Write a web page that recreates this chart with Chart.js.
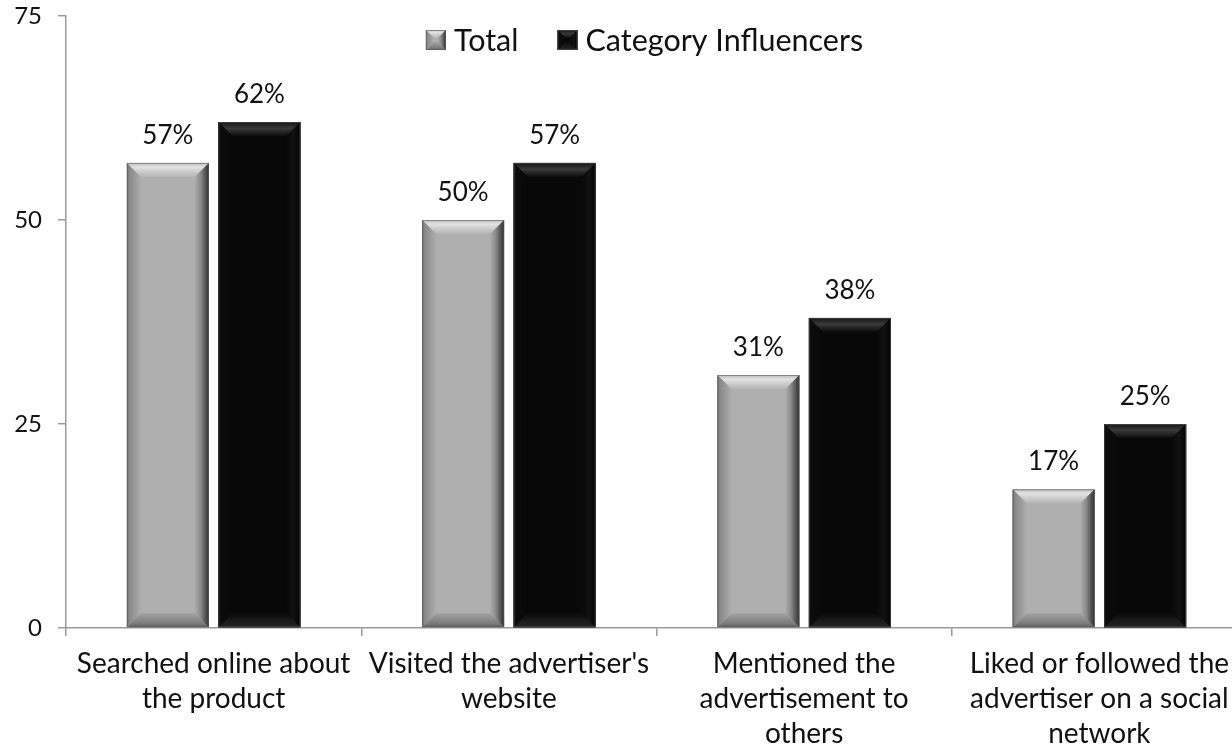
<!DOCTYPE html>
<html>
<head>
<meta charset="utf-8">
<script src="https://cdn.jsdelivr.net/npm/chart.js@4.4.1/dist/chart.umd.min.js"></script>
<style>
  html, body { margin: 0; padding: 0; background: #fff; overflow: hidden; }
  #wrap { width: 1232px; height: 750px; overflow: hidden; position: relative; }
  canvas { display: block; }
</style>
</head>
<body>
<div id="wrap"><canvas id="c" width="1250" height="750"></canvas></div>
<script>
// Chart data
const categories = [
  ["Searched online about", "the product"],
  ["Visited the advertiser's", "website"],
  ["Mentioned the", "advertisement to", "others"],
  ["Liked or followed the", "advertiser on a social", "network"]
];
const seriesNames = ["Total", "Category Influencers"];
const totalValues = [57, 50, 31, 17];
const influencerValues = [62, 57, 38, 25];
const yMin = 0, yMax = 75, yStep = 25;

const FONT = "Lato";
const AXIS = "#9a9a9a";

// Bevelled fills for the two series
const palettes = [
  {
    body: "#afafaf",
    top: [[0, "#bdbdbd"], [0.3, "#e2e2e2"], [0.6, "#cecece"], [1, "#b5b5b5"]],
    bottom: [[0, "#5e5e5e"], [0.25, "#7a7a7a"], [1, "#a2a2a2"]],
    left: [[0, "#707070"], [0.2, "#8a8a8a"], [1, "#adadad"]],
    right: [[0, "#2e2e2e"], [0.25, "#555555"], [0.6, "#8a8a8a"], [1, "#adadad"]],
    edge: "rgba(90,90,90,0.6)"
  },
  {
    body: "#080808",
    top: [[0, "#151515"], [0.45, "#3a3a3a"], [1, "#0c0c0c"]],
    bottom: [[0, "#232323"], [0.5, "#191919"], [1, "#0a0a0a"]],
    left: [[0, "#0d0d0d"], [1, "#080808"]],
    right: [[0, "#030303"], [0.5, "#121212"], [1, "#080808"]],
    edge: "rgba(80,80,80,0.7)"
  }
];

function poly(ctx, pts, fill) {
  ctx.beginPath();
  ctx.moveTo(pts[0][0], pts[0][1]);
  for (let i = 1; i < pts.length; i++) ctx.lineTo(pts[i][0], pts[i][1]);
  ctx.closePath();
  ctx.fillStyle = fill;
  ctx.fill();
}

function grad(ctx, x0, y0, x1, y1, stops) {
  const g = ctx.createLinearGradient(x0, y0, x1, y1);
  stops.forEach(s => g.addColorStop(s[0], s[1]));
  return g;
}

function bevelRect(ctx, l, t, r, b, size, pal) {
  const w = r - l, h = b - t;
  const bv = Math.max(0, Math.min(size, w / 2, h / 2));
  ctx.save();
  ctx.fillStyle = pal.body;
  ctx.fillRect(l, t, w, h);
  poly(ctx, [[l, t], [r, t], [r - bv, t + bv], [l + bv, t + bv]], grad(ctx, 0, t, 0, t + bv, pal.top));
  poly(ctx, [[l, b], [r, b], [r - bv, b - bv], [l + bv, b - bv]], grad(ctx, 0, b, 0, b - bv, pal.bottom));
  poly(ctx, [[l, t], [l + bv, t + bv], [l + bv, b - bv], [l, b]], grad(ctx, l, 0, l + bv, 0, pal.left));
  poly(ctx, [[r, t], [r - bv, t + bv], [r - bv, b - bv], [r, b]], grad(ctx, r, 0, r - bv, 0, pal.right));
  ctx.strokeStyle = pal.edge;
  ctx.lineWidth = 1;
  ctx.strokeRect(l + 0.5, t + 0.5, w - 1, h - 1);
  ctx.restore();
}

// Draws the bevelled bars, the value labels and the legend
const decorations = {
  id: "decorations",
  afterDatasetsDraw(chart) {
    const ctx = chart.ctx;
    chart.data.datasets.forEach((ds, di) => {
      const meta = chart.getDatasetMeta(di);
      meta.data.forEach((el, i) => {
        const p = el.getProps(["x", "y", "base", "width"], true);
        const l = p.x - p.width / 2, r = p.x + p.width / 2;
        bevelRect(ctx, l, p.y, r, p.base, 14, palettes[di]);
        ctx.save();
        ctx.font = "26px " + FONT;
        ctx.fillStyle = "#111";
        ctx.textAlign = "center";
        ctx.textBaseline = "alphabetic";
        ctx.fillText(ds.data[i] + "%", p.x, p.y - 19);
        ctx.restore();
      });
    });

    // legend
    ctx.save();
    ctx.font = "30.5px " + FONT;
    const box = 20, gapText = 8, gapItem = 39;
    const widths = chart.data.datasets.map(d => box + gapText + ctx.measureText(d.label).width);
    const total = widths.reduce((a, b) => a + b, 0) + gapItem * (widths.length - 1);
    const ca = chart.chartArea;
    let x = (ca.left + ca.right) / 2 - 12 - total / 2;
    const cy = 40;
    chart.data.datasets.forEach((d, di) => {
      bevelRect(ctx, x, cy - box / 2, x + box, cy + box / 2, 8, palettes[di]);
      ctx.fillStyle = "#111";
      ctx.textBaseline = "middle";
      ctx.textAlign = "left";
      ctx.fillText(d.label, x + box + gapText, cy + 1);
      x += widths[di] + gapItem;
    });
    ctx.restore();
  }
};

function build() {
  new Chart(document.getElementById("c"), {
    type: "bar",
    data: {
      labels: categories,
      datasets: [
        { label: seriesNames[0], data: totalValues, backgroundColor: palettes[0].body, borderWidth: 0 },
        { label: seriesNames[1], data: influencerValues, backgroundColor: palettes[1].body, borderWidth: 0 }
      ]
    },
    options: {
      responsive: false,
      animation: false,
      devicePixelRatio: 1,
      categoryPercentage: 0.62,
      barPercentage: 0.896,
      layout: { padding: { top: 16, right: 3, left: 0, bottom: 0 } },
      plugins: { legend: { display: false }, tooltip: { enabled: false } },
      scales: {
        x: {
          offset: true,
          grid: { offset: true, drawOnChartArea: false, drawTicks: true, tickLength: 8, color: AXIS, lineWidth: 1.5 },
          border: { color: AXIS, width: 1.5 },
          ticks: {
            color: "#111",
            font: { family: FONT, size: 28, lineHeight: 1.25 },
            padding: 10,
            maxRotation: 0,
            autoSkip: false
          },
          afterFit(scale) { scale.height = 122; scale.paddingTop = 0; scale.paddingBottom = 0; }
        },
        y: {
          min: yMin,
          max: yMax,
          grid: { drawOnChartArea: false, drawTicks: true, tickLength: 8, color: AXIS, lineWidth: 1.5 },
          border: { color: AXIS, width: 1.5 },
          ticks: {
            stepSize: yStep,
            color: "#111",
            font: { family: FONT, size: 24 },
            padding: 16
          },
          afterFit(scale) { scale.width = 66; scale.paddingTop = 0; scale.paddingBottom = 0; }
        }
      }
    },
    plugins: [decorations]
  });
}

if (document.fonts && document.fonts.load) {
  Promise.all([document.fonts.load("28px " + FONT), document.fonts.load("24px " + FONT)]).then(build, build);
} else {
  build();
}
</script>
</body>
</html>
